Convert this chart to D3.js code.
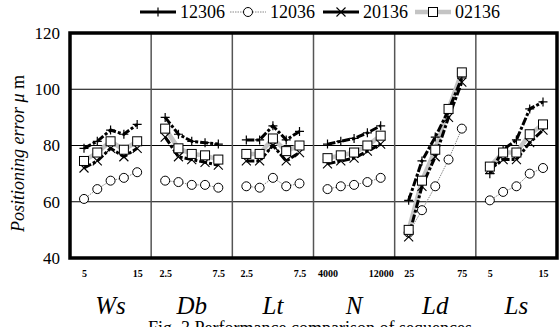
<!DOCTYPE html>
<html>
<head>
<meta charset="utf-8">
<script src="https://cdn.jsdelivr.net/npm/d3@7"></script>
<style>
  body { margin: 0; background: #fff; }
</style>
</head>
<body>
<div id="chart"></div>
<script>
// factor names and their 5 levels
const factors = ["Ws", "Db", "Lt", "N", "Ld", "Ls"];
const factorLevels = [
  [5, 7.5, 10, 12.5, 15],
  [2.5, 3.75, 5, 6.25, 7.5],
  [2.5, 3.75, 5, 6.25, 7.5],
  [4000, 6000, 8000, 10000, 12000],
  [25, 37.5, 50, 62.5, 75],
  [5, 7.5, 10, 12.5, 15]
];
const tickLabels = [["5", "15"], ["2.5", "7.5"], ["2.5", "7.5"], ["4000", "12000"], ["25", "75"], ["5", "15"]];
const yTicks = [40, 60, 80, 100, 120];

// series values, 5 per factor in the order above
const s12306 = [79, 81.5, 85.5, 84, 87.5,  90, 84, 81.5, 81, 80.5,  82, 82, 87, 82, 85,
                80.5, 81.5, 82.5, 84.5, 87,  60.5, 74.5, 83, 92.5, 104,  70, 78.5, 82, 93, 95.5];
const s12036 = [61, 64.5, 67.5, 68.5, 70.5,  67.5, 67, 66, 66, 65,  65.5, 65, 68.5, 65.5, 66.5,
                64.5, 65.5, 66, 67, 68.5,  49, 57, 65.5, 75, 86,  60.5, 63.5, 65.5, 70, 72];
const s20136 = [72, 74.5, 79, 76, 79,  83, 76, 75, 74, 73,  74.5, 74.5, 80, 74.5, 77.5,
                73.5, 74.5, 75.5, 78, 80.5,  47.5, 65.5, 76, 90, 102.5,  71.5, 75, 75, 81, 85.5];
const s02136 = [74.5, 77.5, 81.5, 78.5, 81.5,  86, 79, 77, 76.5, 75,  77, 77, 82.5, 78, 80,
                75.5, 76.5, 77.5, 80, 83.5,  50, 67.5, 78.5, 93, 106,  72.5, 77.5, 77.5, 84, 87.5];

const seriesNames = ["12306", "12036", "20136", "02136"];
const seriesValues = [s12306, s12036, s20136, s02136];

const SERIF = "'Times New Roman', 'Liberation Serif', 'DejaVu Serif', serif";
const W = 560, H = 327;
const plotL = 70, plotR = 557, plotT = 33, plotB = 258;
const panelW = (plotR - plotL) / factors.length;

const svg = d3.select("#chart").append("svg")
  .attr("width", W)
  .attr("height", H)
  .style("font-family", SERIF);

const y = d3.scaleLinear().domain([40, 120]).range([plotB, plotT]);

// styles per series
const styles = {
  "12306": { stroke: "#000", width: 3, dash: "8,2,3,2", marker: "plus" },
  "12036": { stroke: "#888", width: 1, dash: "1.5,1", marker: "circle" },
  "20136": { stroke: "#000", width: 3, dash: "8,2,3,2", marker: "cross" },
  "02136": { stroke: "#c4c4c4", width: 4.5, dash: null, marker: "square" }
};

function drawMarker(g, type, cx, cy) {
  if (type === "plus") {
    g.append("path").attr("d", `M${cx - 4.5},${cy}H${cx + 4.5}M${cx},${cy - 4.5}V${cy + 4.5}`)
      .attr("stroke", "#000").attr("stroke-width", 1.2).attr("fill", "none");
  } else if (type === "cross") {
    g.append("path").attr("d", `M${cx - 4.5},${cy - 4.5}L${cx + 4.5},${cy + 4.5}M${cx - 4.5},${cy + 4.5}L${cx + 4.5},${cy - 4.5}`)
      .attr("stroke", "#000").attr("stroke-width", 1.1).attr("fill", "none");
  } else if (type === "circle") {
    g.append("circle").attr("cx", cx).attr("cy", cy).attr("r", 4.5)
      .attr("fill", "#fff").attr("stroke", "#000").attr("stroke-width", 1);
  } else if (type === "square") {
    g.append("rect").attr("x", cx - 4.5).attr("y", cy - 4.5).attr("width", 9).attr("height", 9)
      .attr("fill", "#fff").attr("stroke", "#000").attr("stroke-width", 1);
  }
}

// grid lines
svg.append("g")
  .selectAll("line")
  .data(yTicks.filter(d => d > 40 && d < 120))
  .join("line")
  .attr("x1", plotL).attr("x2", plotR)
  .attr("y1", d => y(d)).attr("y2", d => y(d))
  .attr("stroke", "#000").attr("stroke-width", 1);

// panel dividers
svg.append("g")
  .selectAll("line")
  .data(d3.range(1, factors.length))
  .join("line")
  .attr("x1", i => plotL + i * panelW).attr("x2", i => plotL + i * panelW)
  .attr("y1", plotT).attr("y2", plotB)
  .attr("stroke", "#555").attr("stroke-width", 1.5);

// y axis labels
svg.append("g")
  .attr("transform", `translate(${plotL - 6},0)`)
  .call(d3.axisLeft(y).tickValues(yTicks).tickSize(0).tickPadding(4))
  .attr("font-family", SERIF)
  .call(g => g.select(".domain").remove())
  .selectAll("text")
  .attr("font-size", 17)
  .attr("fill", "#000");

// panels
const line = d3.line().x(d => d[0]).y(d => d[1]);
const lineLayer = svg.append("g");
const markerLayer = svg.append("g");

factors.forEach((f, pi) => {
  const x0 = plotL + pi * panelW;
  const levels = factorLevels[pi];
  const x = d3.scaleLinear().domain([levels[0], levels[levels.length - 1]])
    .range([x0 + 14, x0 + panelW - 14]);

  // x tick labels
  const ax = svg.append("g")
    .attr("transform", `translate(0,${plotB + 9})`)
    .call(d3.axisBottom(x).tickValues([levels[0], levels[levels.length - 1]])
      .tickSize(0).tickFormat((d, i) => tickLabels[pi][i]))
    .attr("font-family", SERIF);
  ax.select(".domain").remove();
  ax.selectAll("text")
    .attr("font-size", 10).attr("font-weight", "bold").attr("fill", "#000");

  // factor name
  svg.append("text")
    .attr("x", x0 + panelW / 2)
    .attr("y", 314)
    .attr("text-anchor", "middle")
    .attr("font-size", 25)
    .attr("font-style", "italic")
    .text(f);

  // draw order: gray thick, dotted, black lines
  [3, 1, 2, 0].forEach(si => {
    const st = styles[seriesNames[si]];
    const pts = levels.map((lv, k) => [x(lv), y(seriesValues[si][pi * 5 + k])]);
    lineLayer.append("path")
      .attr("d", line(pts))
      .attr("fill", "none")
      .attr("stroke", st.stroke)
      .attr("stroke-width", st.width)
      .attr("stroke-dasharray", st.dash);
  });
  [1, 0, 2, 3].forEach(si => {
    const st = styles[seriesNames[si]];
    levels.forEach((lv, k) => {
      drawMarker(markerLayer, st.marker, x(lv), y(seriesValues[si][pi * 5 + k]));
    });
  });
});

// frame
svg.append("rect")
  .attr("x", plotL).attr("y", plotT)
  .attr("width", plotR - plotL).attr("height", plotB - plotT)
  .attr("fill", "none").attr("stroke", "#000").attr("stroke-width", 3.5);

// y axis title
const yt = svg.append("text")
  .attr("transform", `translate(24,${(plotT + plotB) / 2 + 8}) rotate(-90)`)
  .attr("text-anchor", "middle")
  .attr("font-size", 18);
yt.append("tspan").attr("font-style", "italic").text("Positioning error ");
yt.append("tspan").attr("font-style", "italic").text("μ");
yt.append("tspan").text(" m");

// legend
const legendX = [140, 230, 323, 415];
const legend = svg.append("g");
seriesNames.forEach((name, i) => {
  const st = styles[name];
  const lx = legendX[i];
  legend.append("line")
    .attr("x1", lx).attr("x2", lx + 36)
    .attr("y1", 12).attr("y2", 12)
    .attr("stroke", st.stroke)
    .attr("stroke-width", st.width)
    .attr("stroke-dasharray", name === "12036" ? st.dash : null);
  drawMarker(legend, st.marker, lx + 18, 12);
  legend.append("text")
    .attr("x", lx + 40)
    .attr("y", 18)
    .attr("font-size", 18)
    .text(name);
});

// caption (cut off by the bottom edge, as in the source figure)
svg.append("text")
  .attr("x", 148)
  .attr("y", 334)
  .attr("font-size", 18)
  .text("Fig. 3 Performance comparison of sequences");
</script>
</body>
</html>
